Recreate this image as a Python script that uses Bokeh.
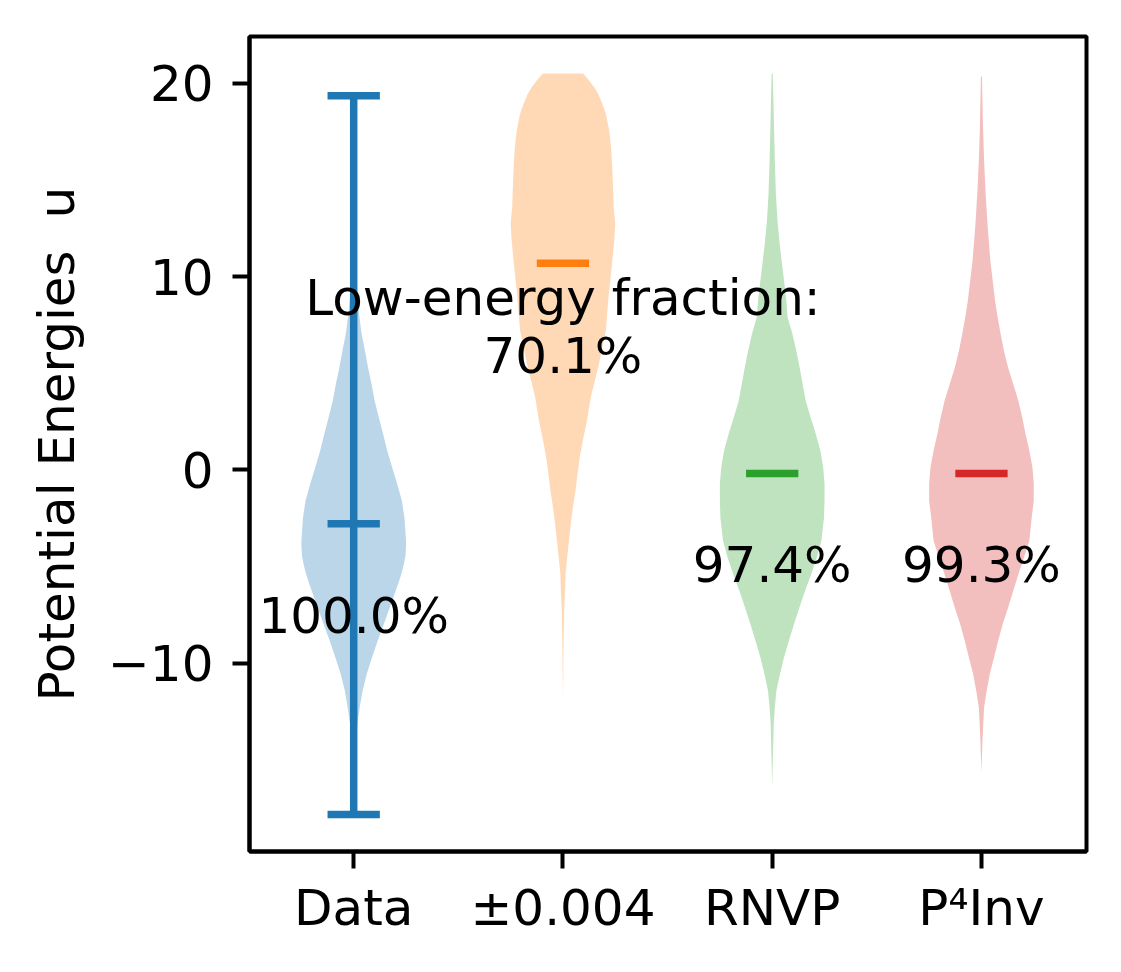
from bokeh.core.properties import value
from bokeh.embed import file_html
from bokeh.models import FixedTicker, Label, Range1d
from bokeh.plotting import figure
from bokeh.resources import INLINE

categories = ["Data", "±0.004", "RNVP", "P⁴Inv"]
colors = ["#1f77b4", "#ff7f0e", "#2ca02c", "#d62728"]
y_ticks = [-10, 0, 10, 20]

# violin outlines: energy and relative density
data_u = [19.36, 13.93, 9.79, 7.88, 7.06, 6.17, 5.29, 4.46, 3.58, 2.71, 1.88, 1.00, 0.12, -0.71, -1.59, -2.47, -3.66, -3.92, -4.43, -4.85, -5.29, -5.73, -7.12, -7.95, -8.83, -9.71, -10.54, -11.42, -12.29, -13.12, -14.88, -17.83]
data_d = [0, 0.01, 0.04, 0.11, 0.15, 0.215, 0.275, 0.34, 0.40, 0.48, 0.56, 0.64, 0.735, 0.83, 0.92, 0.97, 1.00, 1.00, 0.99, 0.96, 0.92, 0.87, 0.69, 0.58, 0.46, 0.35, 0.25, 0.17, 0.115, 0.07, 0.02, 0]

noise_u = [20.50, 20.14, 19.78, 19.47, 18.95, 18.43, 17.55, 16.67, 15.85, 14.45, 13.57, 12.74, 11.86, 10.98, 8.91, 7.21, 5.50, 3.74, 2.55, 1.52, 0.64, -0.19, -1.07, -1.95, -2.78, -3.66, -4.55, -5.36, -6.24, -7.12, -8.83, -10.54, -11.78]
noise_d = [0.385, 0.50, 0.60, 0.67, 0.75, 0.82, 0.885, 0.92, 0.94, 0.96, 0.97, 1.00, 0.98, 0.95, 0.87, 0.82, 0.69, 0.53, 0.46, 0.38, 0.32, 0.28, 0.24, 0.19, 0.15, 0.115, 0.08, 0.05, 0.04, 0.025, 0.013, 0.006, 0]

rnvp_u = [20.50, 19.47, 16.00, 14.29, 12.90, 11.50, 10.16, 8.76, 7.88, 7.06, 6.17, 5.29, 4.46, 3.58, 2.71, 1.88, 1.00, 0.12, -0.71, -1.59, -2.47, -3.66, -4.55, -5.36, -6.24, -7.12, -7.95, -8.83, -9.71, -10.54, -11.42, -12.29, -13.12, -14.88, -16.33]
rnvp_d = [0.01, 0.02, 0.05, 0.07, 0.10, 0.15, 0.21, 0.27, 0.295, 0.385, 0.46, 0.525, 0.58, 0.64, 0.735, 0.83, 0.92, 0.975, 1.00, 1.00, 0.99, 0.94, 0.85, 0.75, 0.63, 0.52, 0.42, 0.32, 0.225, 0.15, 0.08, 0.05, 0.03, 0.013, 0]

p4inv_u = [20.35, 17.71, 16.00, 14.29, 12.53, 10.82, 8.76, 7.88, 7.06, 6.17, 5.29, 4.46, 3.58, 2.71, 1.88, 1.00, 0.12, -0.71, -1.59, -2.47, -3.66, -4.55, -5.36, -6.24, -7.12, -7.95, -8.83, -9.71, -10.54, -11.42, -12.29, -14.00, -15.65]
p4inv_d = [0.01, 0.03, 0.05, 0.08, 0.12, 0.17, 0.26, 0.31, 0.365, 0.43, 0.51, 0.605, 0.705, 0.78, 0.84, 0.915, 0.975, 1.00, 1.00, 0.96, 0.915, 0.81, 0.71, 0.61, 0.51, 0.41, 0.32, 0.24, 0.16, 0.10, 0.05, 0.02, 0]

medians = [-2.78, 10.69, -0.18, -0.18]
data_min = -17.83
data_max = 19.36

# low-energy fractions
text_x = [1, 2, 2, 3, 4]
text_y = [-8.47, 7.98, 4.97, -5.87, -5.87]
text_labels = ["100.0%", "Low-energy fraction:", "70.1%", "97.4%", "99.3%"]

FONT = "DejaVu Sans"
FONT_SIZE = "50px"
BAR = 7.5
HALF_WIDTH = 0.25
CAP = 0.125

p = figure(width=1105, height=950, frame_width=837, frame_height=815,
           x_range=Range1d(0.502, 4.502), y_range=Range1d(-19.74, 22.42),
           min_border_left=249, min_border_top=36, min_border_right=19, min_border_bottom=99,
           output_backend="svg", toolbar_location=None)

p.grid.visible = False
p.outline_line_color = "black"
p.outline_line_width = 4
p.outline_line_alpha = 1

for ax in [p.xaxis[0], p.yaxis[0]]:
    ax.axis_line_color = "black"
    ax.axis_line_width = 4
    ax.major_tick_line_color = "black"
    ax.major_tick_line_width = 4
    ax.major_tick_in = 0
    ax.major_tick_out = 17
    ax.minor_tick_line_color = None
    ax.major_label_text_font = FONT
    ax.major_label_text_font_size = FONT_SIZE
    ax.major_label_text_color = "black"

p.xaxis[0].ticker = FixedTicker(ticks=[1, 2, 3, 4])
p.xaxis[0].major_label_overrides = {i + 1: c for i, c in enumerate(categories)}
p.xaxis[0].major_label_standoff = 10
p.yaxis[0].ticker = FixedTicker(ticks=y_ticks)
p.yaxis[0].major_label_overrides = {t: str(t).replace("-", "−") for t in y_ticks}
p.yaxis[0].major_label_standoff = 19

violins = [(data_u, data_d), (noise_u, noise_d), (rnvp_u, rnvp_d), (p4inv_u, p4inv_d)]
for i, (u, d) in enumerate(violins):
    pos = i + 1
    xs = [pos - HALF_WIDTH * v for v in d] + [pos + HALF_WIDTH * v for v in reversed(d)]
    ys = list(u) + list(reversed(u))
    p.patch(xs, ys, fill_color=colors[i], fill_alpha=0.3, line_color=None)

# medians, plus the extrema only on the first violin
p.segment([i + 1 - CAP for i in range(4)], medians, [i + 1 + CAP for i in range(4)], medians,
          line_color=colors, line_width=BAR, line_cap="butt")
p.segment([1, 1 - CAP, 1 - CAP], [data_min, data_min, data_max], [1, 1 + CAP, 1 + CAP], [data_max, data_min, data_max],
          line_color=colors[0], line_width=BAR, line_cap="butt")

# svg text sits low on its baseline, hence the offset
p.text(text_x, text_y, text=text_labels, text_font=value(FONT), text_font_size=value(FONT_SIZE),
       text_align="center", text_baseline="alphabetic", text_color="black", y_offset=-18)

# y label lives in the left panel: labels over the frame get cut, and a second panel would push the frame right
p.add_layout(Label(x=10, y=150, x_units="screen", y_units="screen", text="Potential Energies\u00a0\u00a0u",
                   angle=90, angle_units="deg", text_font=FONT, text_font_size=FONT_SIZE,
                   text_align="left", text_baseline="alphabetic", text_color="black"), "left")

open("out.html", "w").write(file_html(p, INLINE))
